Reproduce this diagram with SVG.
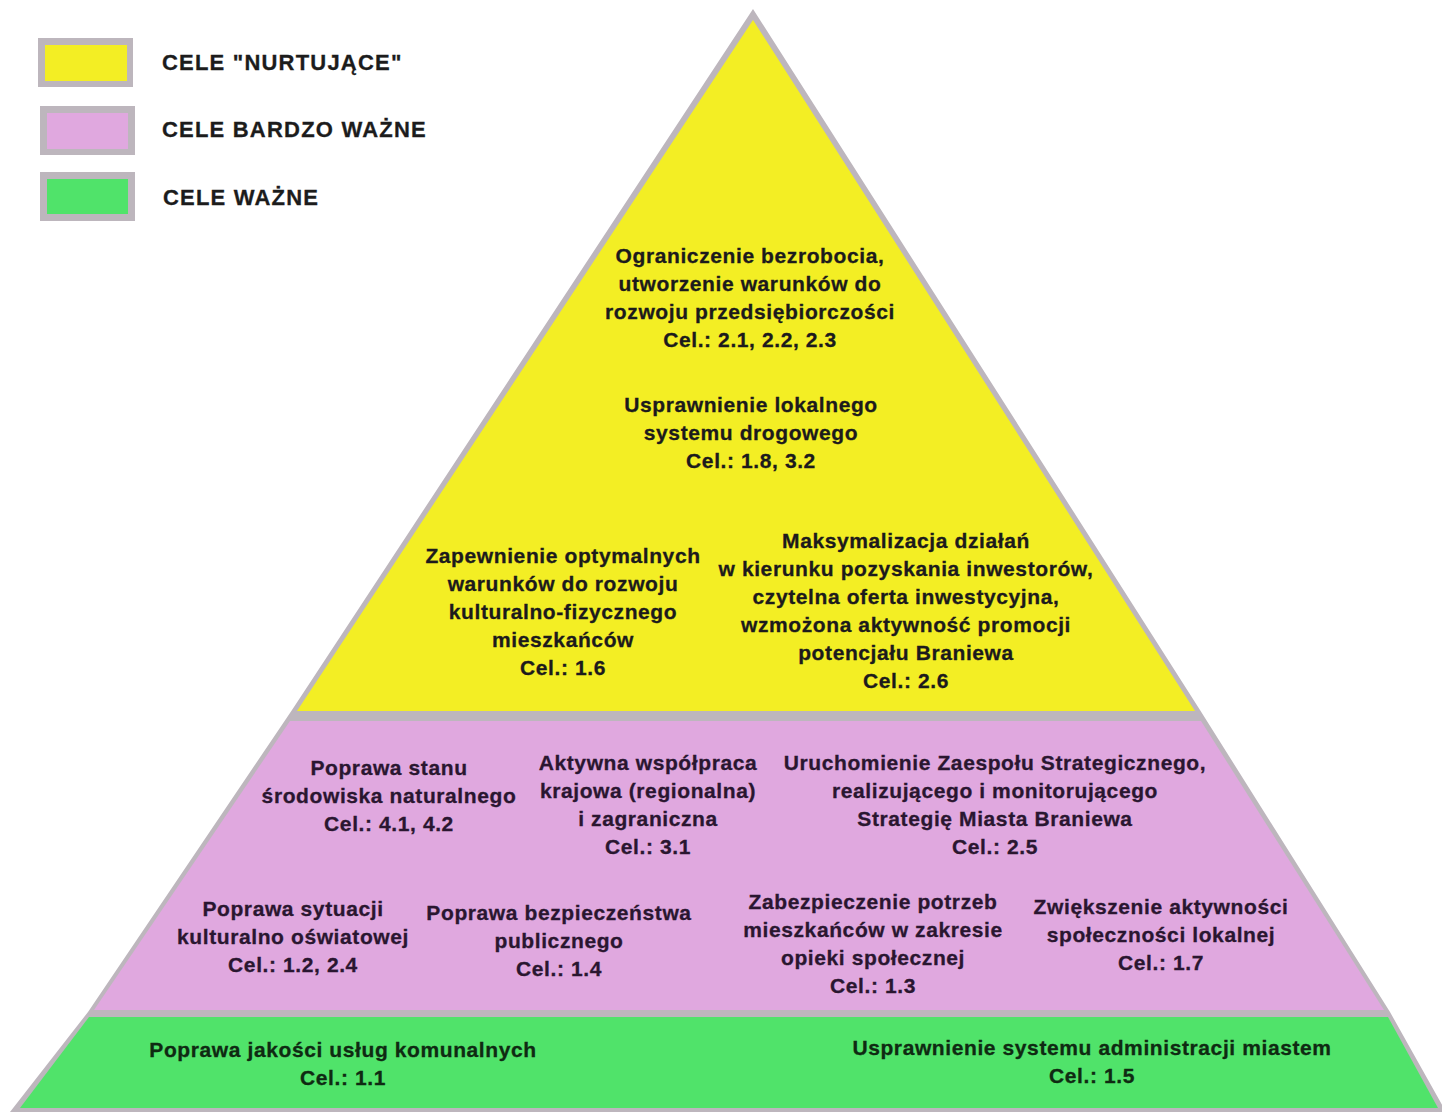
<svg xmlns="http://www.w3.org/2000/svg" width="1442" height="1112" viewBox="0 0 1442 1112">
<style>
.t{font-family:"Liberation Sans",Arial,sans-serif;font-weight:bold;font-size:21px;letter-spacing:0.6px;text-anchor:middle;fill:#1c1a1c;stroke:#1c1a1c;stroke-width:0.3px}
.p{fill:#2a1630;stroke:#2a1630}
.g{fill:#0f2a12;stroke:#0f2a12}
.lg{font-family:"Liberation Sans",Arial,sans-serif;font-weight:bold;font-size:22px;letter-spacing:1.2px;fill:#1c1c1c;stroke:#1c1c1c;stroke-width:0.3px}
.frame{fill:#bdb6bd}
.yel{fill:#f3ee24}
.pink{fill:#e0a8df}
.green{fill:#50e36a}
</style>
<rect width="1442" height="1112" fill="#ffffff"/>
<g id="legend">
  <g id="legend-nurturing">
    <rect class="frame" x="38" y="38" width="95" height="49"/>
    <rect class="yel" x="45" y="45" width="82" height="36"/>
    <text class="lg" x="162" y="70">CELE "NURTUJĄCE"</text>
  </g>
  <g id="legend-very-important">
    <rect class="frame" x="40" y="106" width="95" height="49"/>
    <rect class="pink" x="47" y="113" width="81" height="36"/>
    <text class="lg" x="162" y="137">CELE BARDZO WAŻNE</text>
  </g>
  <g id="legend-important">
    <rect class="frame" x="40" y="172" width="95" height="49"/>
    <rect class="green" x="47" y="179" width="81" height="35"/>
    <text class="lg" x="163" y="205">CELE WAŻNE</text>
  </g>
</g>
<g id="pyramid">
  <polygon class="frame" points="753,9 1200,710 1390,1012 1446,1112 10,1112 88,1012 292,710"/>
  <polygon id="band-yellow" class="yel" points="753,20 1195,711 297,711"/>
  <polygon id="band-pink" class="pink" points="290,721 1201,721 1384,1010 94,1010"/>
  <polygon id="band-green" class="green" points="89,1017 1388,1017 1438,1108 20,1108"/>
</g>
<g id="connectors"/>
<g id="goal-2-1">
  <text class="t" x="750" y="263">Ograniczenie bezrobocia,</text>
  <text class="t" x="750" y="291">utworzenie warunków do</text>
  <text class="t" x="750" y="319">rozwoju przedsiębiorczości</text>
  <text class="t" x="750" y="347">Cel.: 2.1, 2.2, 2.3</text>
</g>
<g id="goal-1-8">
  <text class="t" x="751" y="412">Usprawnienie lokalnego</text>
  <text class="t" x="751" y="440">systemu drogowego</text>
  <text class="t" x="751" y="468">Cel.: 1.8, 3.2</text>
</g>
<g id="goal-1-6">
  <text class="t" x="563" y="563">Zapewnienie optymalnych</text>
  <text class="t" x="563" y="591">warunków do rozwoju</text>
  <text class="t" x="563" y="619">kulturalno-fizycznego</text>
  <text class="t" x="563" y="647">mieszkańców</text>
  <text class="t" x="563" y="675">Cel.: 1.6</text>
</g>
<g id="goal-2-6">
  <text class="t" x="906" y="548">Maksymalizacja działań</text>
  <text class="t" x="906" y="576">w kierunku pozyskania inwestorów,</text>
  <text class="t" x="906" y="604">czytelna oferta inwestycyjna,</text>
  <text class="t" x="906" y="632">wzmożona aktywność promocji</text>
  <text class="t" x="906" y="660">potencjału Braniewa</text>
  <text class="t" x="906" y="688">Cel.: 2.6</text>
</g>
<g id="goal-4-1">
  <text class="t p" x="389" y="775">Poprawa stanu</text>
  <text class="t p" x="389" y="803">środowiska naturalnego</text>
  <text class="t p" x="389" y="831">Cel.: 4.1, 4.2</text>
</g>
<g id="goal-3-1">
  <text class="t p" x="648" y="770">Aktywna współpraca</text>
  <text class="t p" x="648" y="798">krajowa (regionalna)</text>
  <text class="t p" x="648" y="826">i zagraniczna</text>
  <text class="t p" x="648" y="854">Cel.: 3.1</text>
</g>
<g id="goal-2-5">
  <text class="t p" x="995" y="770">Uruchomienie Zaespołu Strategicznego,</text>
  <text class="t p" x="995" y="798">realizującego i monitorującego</text>
  <text class="t p" x="995" y="826">Strategię Miasta Braniewa</text>
  <text class="t p" x="995" y="854">Cel.: 2.5</text>
</g>
<g id="goal-1-2">
  <text class="t p" x="293" y="916">Poprawa sytuacji</text>
  <text class="t p" x="293" y="944">kulturalno oświatowej</text>
  <text class="t p" x="293" y="972">Cel.: 1.2, 2.4</text>
</g>
<g id="goal-1-4">
  <text class="t p" x="559" y="920">Poprawa bezpieczeństwa</text>
  <text class="t p" x="559" y="948">publicznego</text>
  <text class="t p" x="559" y="976">Cel.: 1.4</text>
</g>
<g id="goal-1-3">
  <text class="t p" x="873" y="909">Zabezpieczenie potrzeb</text>
  <text class="t p" x="873" y="937">mieszkańców w zakresie</text>
  <text class="t p" x="873" y="965">opieki społecznej</text>
  <text class="t p" x="873" y="993">Cel.: 1.3</text>
</g>
<g id="goal-1-7">
  <text class="t p" x="1161" y="914">Zwiększenie aktywności</text>
  <text class="t p" x="1161" y="942">społeczności lokalnej</text>
  <text class="t p" x="1161" y="970">Cel.: 1.7</text>
</g>
<g id="goal-1-1">
  <text class="t g" x="343" y="1057">Poprawa jakości usług komunalnych</text>
  <text class="t g" x="343" y="1085">Cel.: 1.1</text>
</g>
<g id="goal-1-5">
  <text class="t g" x="1092" y="1055">Usprawnienie systemu administracji miastem</text>
  <text class="t g" x="1092" y="1083">Cel.: 1.5</text>
</g>
</svg>
